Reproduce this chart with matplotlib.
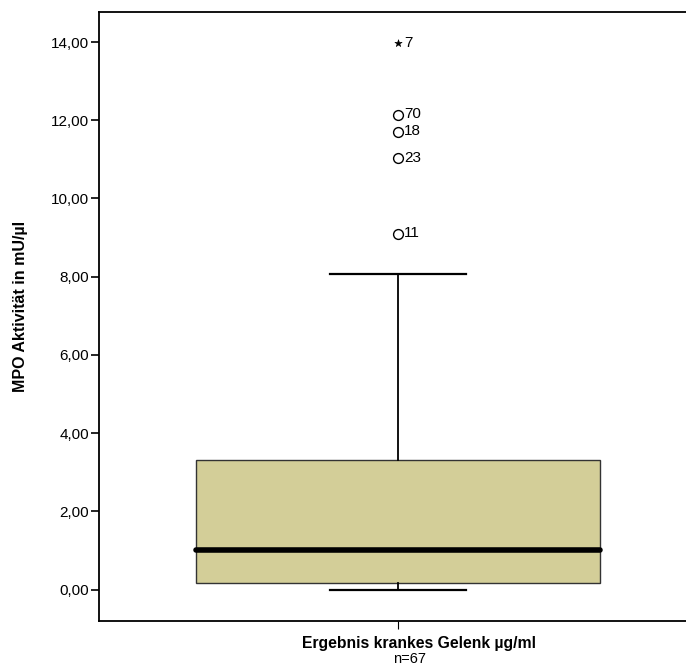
import matplotlib.pyplot as plt
from matplotlib.ticker import FuncFormatter

plt.rcParams['font.family'] = ['Liberation Sans', 'DejaVu Sans']

# box statistics
group_label = "Ergebnis krankes Gelenk µg/ml"
n_label = "n=67"
q1, median, q3 = 0.16, 1.0, 3.32
whisker_low, whisker_high = 0.0, 8.06

# outliers (case number, value); extreme values drawn as stars
outlier_ids = ["70", "18", "23", "11"]
outlier_vals = [12.13, 11.70, 11.03, 9.09]
extreme_ids = ["7"]
extreme_vals = [13.97]

fig = plt.figure(figsize=(6.86, 6.66), dpi=100)
ax = fig.add_axes([0.1436, 0.0683, 0.8600, 0.9144])

stats = [dict(med=median, q1=q1, q3=q3, whislo=whisker_low, whishi=whisker_high,
              fliers=[], label="")]
ax.bxp(stats, positions=[1], widths=0.684, patch_artist=True, showfliers=False,
       capwidths=0.23,
       boxprops=dict(facecolor="#d3ce98", edgecolor="#333333", linewidth=1.0),
       medianprops=dict(color="black", linewidth=4.0, solid_capstyle="round"),
       whiskerprops=dict(color="black", linewidth=1.3),
       capprops=dict(color="black", linewidth=1.6))

ax.scatter([1] * len(outlier_vals), outlier_vals, s=50, marker="o",
           facecolors="white", edgecolors="black", linewidths=1.0, zorder=4)
ax.scatter([1] * len(extreme_vals), extreme_vals, s=30, marker="*",
           facecolors="black", edgecolors="black", linewidths=0.4, zorder=4)
for lab, v in zip(outlier_ids + extreme_ids, outlier_vals + extreme_vals):
    ax.annotate(lab, (1, v), xytext=(4, 0.5), textcoords="offset points",
                va="center", ha="left", fontsize=11)

ax.set_xlim(0.492, 1.492)
ax.set_ylim(-0.79, 14.78)
ax.set_yticks(range(0, 15, 2))
ax.yaxis.set_major_formatter(FuncFormatter(lambda v, p: f"{v:.2f}".replace(".", ",")))
ax.set_xticks([1])
ax.set_xticklabels([""])
# category label and n sit a little right of the tick, as in the original
xt = ax.get_xaxis_transform()
ax.text(1.0357, -0.037, group_label, transform=xt, ha="center", va="center",
        fontsize=11.3, fontweight="bold")
ax.text(1.0196, -0.064, n_label, transform=xt, ha="center", va="center",
        fontsize=10.5)

ax.tick_params(axis="y", direction="out", length=6, width=1.2, labelsize=11, pad=1)
ax.tick_params(axis="x", direction="out", length=6, width=0.8, pad=4)
ax.set_ylabel("MPO Aktivität in mU/µl", fontweight="bold", fontsize=11.5)
ax.yaxis.set_label_coords(-0.12, 0.515)

ax.spines["right"].set_visible(False)
for s in ["left", "top", "bottom"]:
    ax.spines[s].set_linewidth(1.3)

fig.savefig("out.png", dpi=100)
